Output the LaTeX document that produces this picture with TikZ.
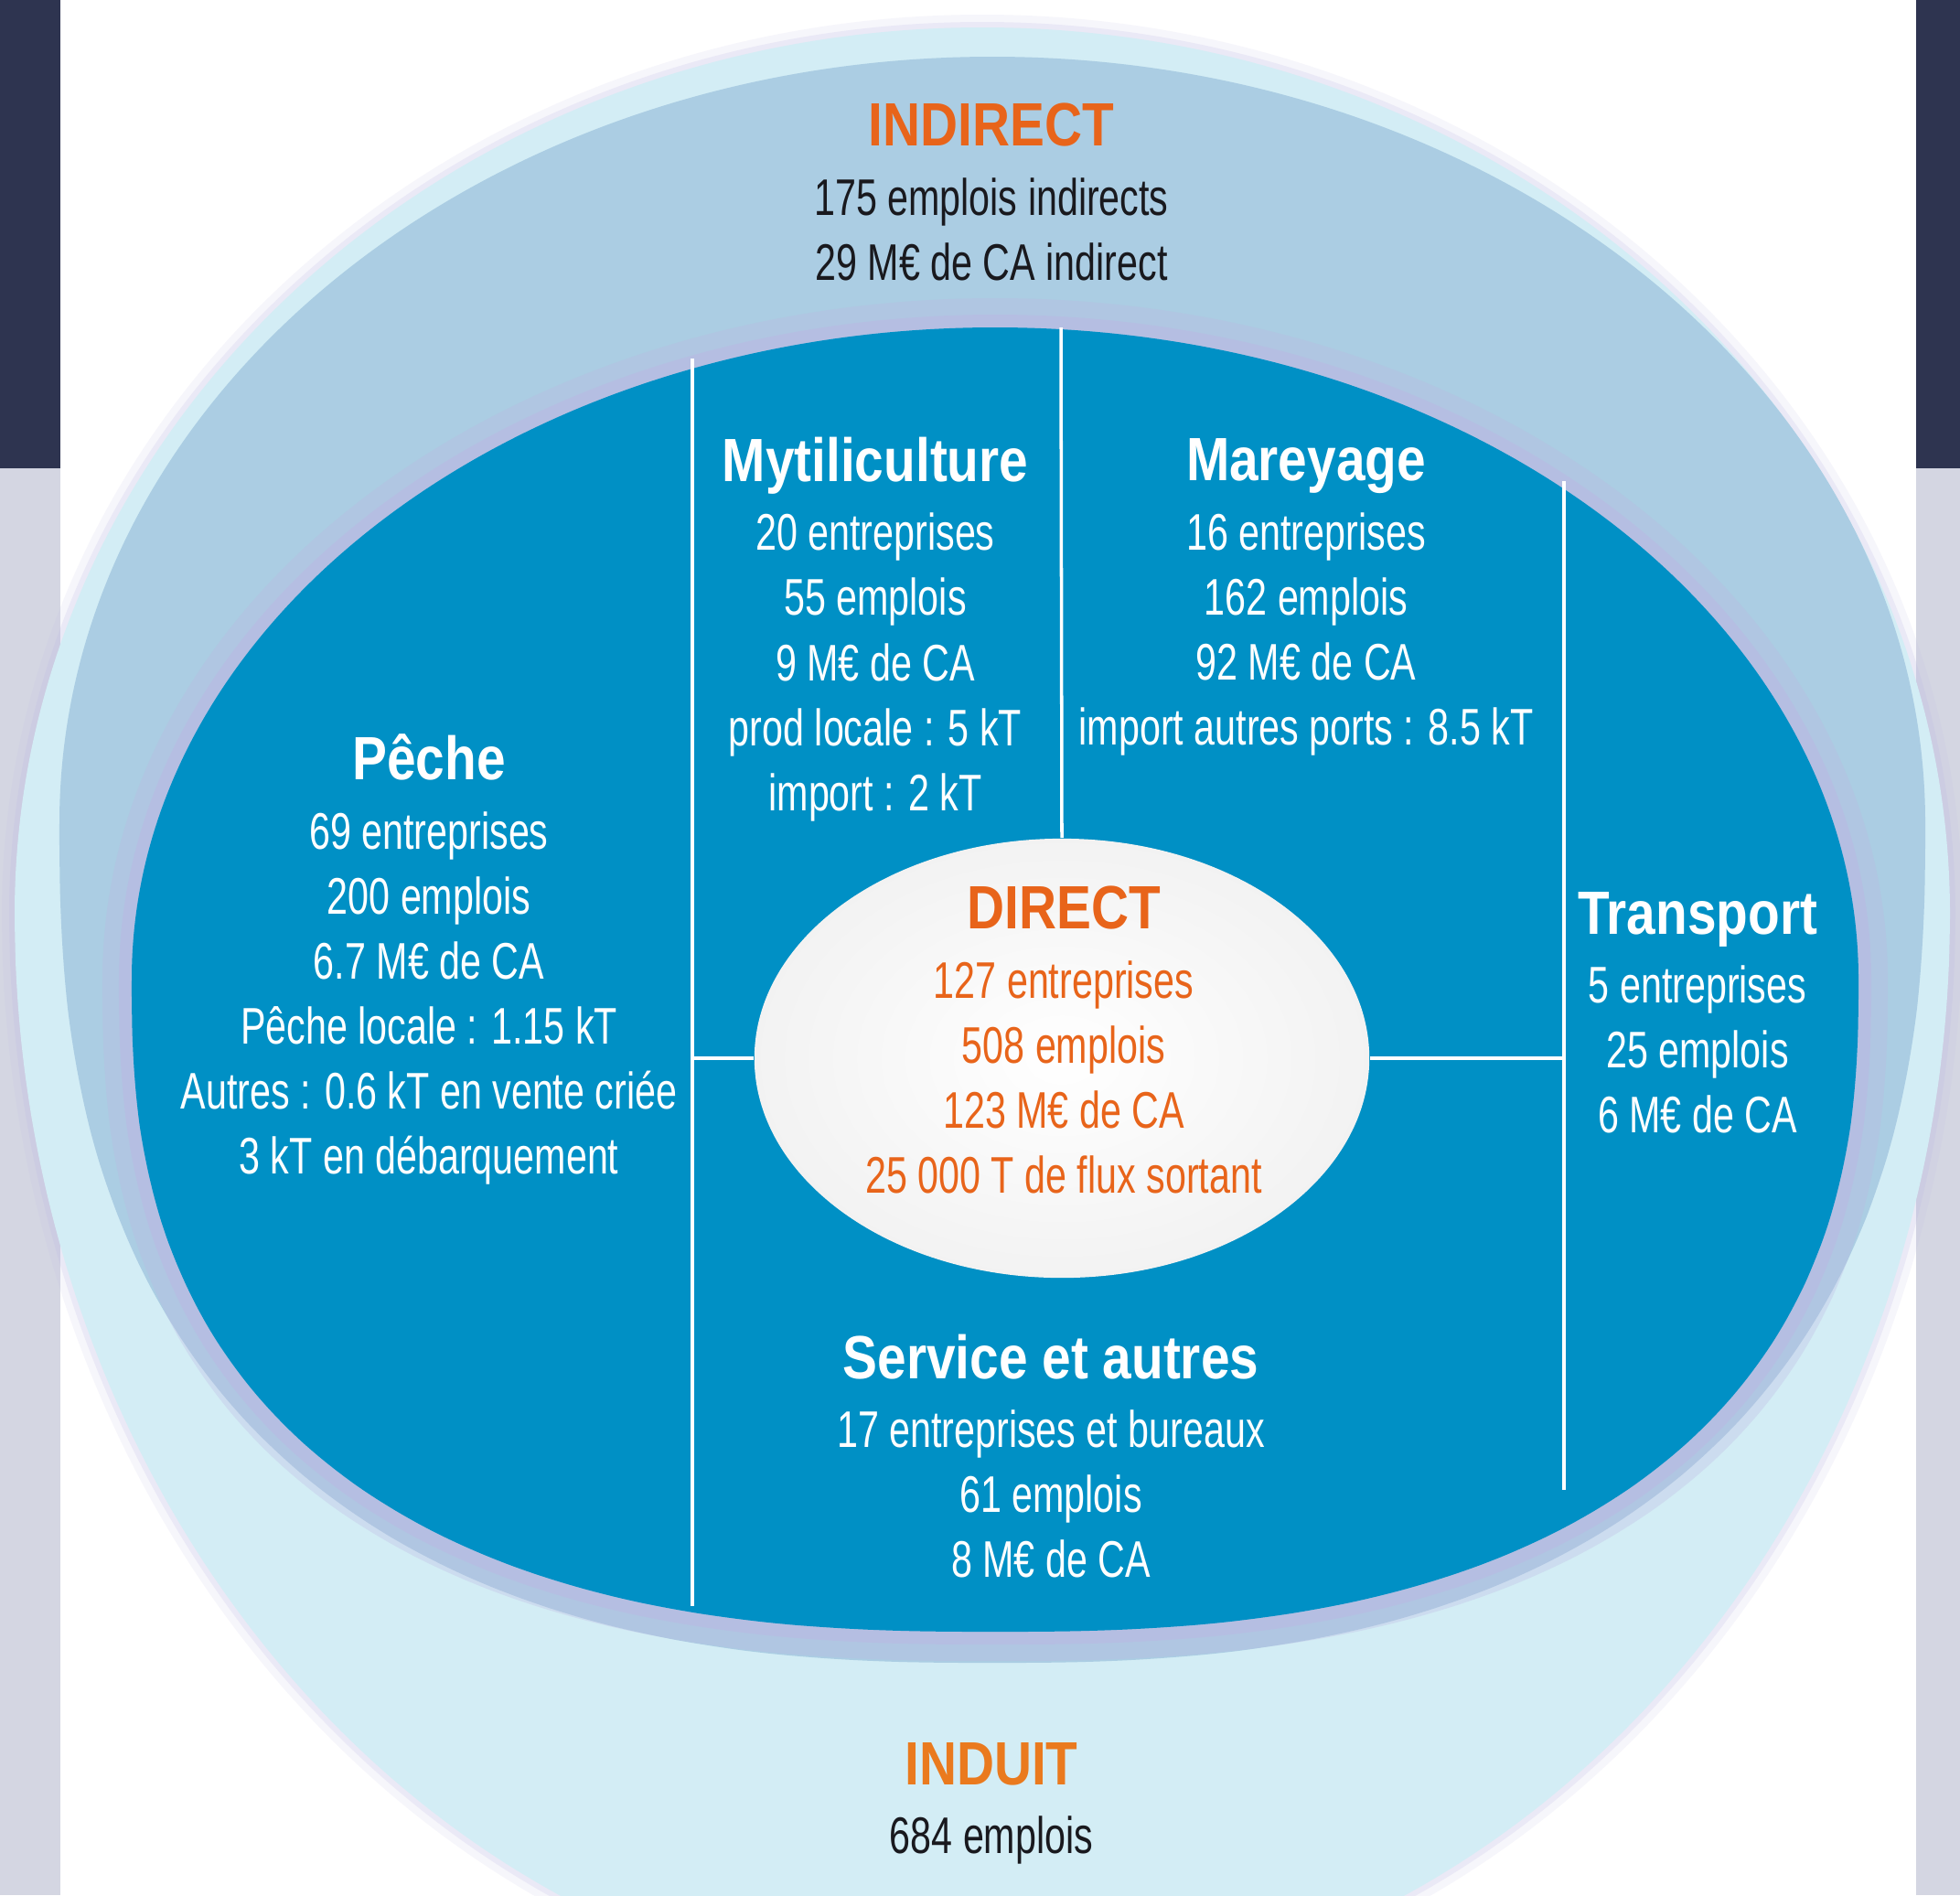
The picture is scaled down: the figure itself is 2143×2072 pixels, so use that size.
\documentclass[tikz,border=0pt]{standalone}
\usepackage{fontspec}
\setmainfont{Liberation Sans}
\newfontfamily\etroite[FakeStretch=0.733]{Liberation Sans}
\newfontfamily\etroitegras[FakeStretch=0.85]{Liberation Sans Bold}
\usetikzlibrary{shapes.geometric}
\definecolor{marine}{RGB}{46,52,80}
\definecolor{grisbord}{RGB}{212,214,226}
\definecolor{induit}{RGB}{211,237,245}
\definecolor{indirect}{RGB}{171,205,227}
\definecolor{direct}{RGB}{0,144,197}
\definecolor{orangetitre}{RGB}{232,100,26}
\definecolor{orangeinduit}{RGB}{234,122,30}
\definecolor{encre}{RGB}{25,25,30}
\definecolor{lavande}{RGB}{188,182,226}
\colorlet{ombre}{lavande}

\newcommand{\titre}[2][white]{{\color{#1}\etroitegras\fontsize{19}{20.2}\selectfont #2}\\[1.2pt]}

% forme ovale : moitie haute en ellipse, moitie basse plus ronde
% {cx}{cy}{rayon x}{rayon haut}{rayon bas}{exposant bas}
\tikzset{oeuf/.style n args={6}{insert path={
    (#1-#3,#2) arc[start angle=180, end angle=360, x radius=#3, y radius=#4]
    -- plot[domain=0.5:179.5, samples=90, smooth]
       ({#1+#3*(cos(\x)<0 ? -1 : 1)*abs(cos(\x))^#6}, {#2+#5*sin(\x)^#6}) -- cycle}}}

\begin{document}
\begin{tikzpicture}[x=0.01cm, y=-0.01cm,
    bloc/.style={align=center, inner sep=0pt, text=white, font=\etroite\fontsize{16}{20.2}\selectfont},
    separation/.style={white, line width=1pt}]

    \useasboundingbox (0,0) rectangle (2143,2072);
    \clip (0,0) rectangle (2143,2072);

    % fond et bandes laterales
    \fill[white] (0,0) rectangle (2143,2072);
    \fill[grisbord] (0,512) rectangle (66,2072);
    \fill[marine] (0,0) rectangle (66,512);
    \fill[grisbord] (2095,512) rectangle (2143,2072);
    \fill[marine] (2095,0) rectangle (2143,512);

    % anneaux
    \fill[ombre, opacity=0.12, oeuf={1074}{1000}{1072}{984}{1206}{1}];
    \fill[ombre, opacity=0.2, oeuf={1074}{1000}{1064}{976}{1198}{1}];
    \fill[induit, oeuf={1074}{1000}{1058}{970}{1192}{1}];
    \fill[indirect, oeuf={1085}{900}{1020}{838}{918}{0.8}];
    \fill[ombre, opacity=0.3, oeuf={1088}{1071}{976}{745}{745}{0.8}];
    \fill[ombre, opacity=0.45, oeuf={1088}{1071}{958}{727}{727}{0.8}];
    \fill[direct, oeuf={1088}{1071}{944}{713}{713}{0.8}];
    \node[ellipse, inner sep=0pt, minimum width=6.72cm, minimum height=4.8cm,
          inner color=white, outer color=gray!10, shading=radial] (noyau) at (1161,1157) {};

    % separations
    \coordinate (gHaut) at (757,392);
    \coordinate (gMil) at (757,1157);
    \coordinate (gBas) at (757,1756);
    \coordinate (cHaut) at (1160,358);
    \coordinate (dHaut) at (1710,526);
    \coordinate (dMil) at (1710,1157);
    \coordinate (dBas) at (1710,1629);
    \draw[separation] (gHaut) -- (gBas);
    \draw[separation] (cHaut) -- (noyau.north);
    \draw[separation] (dHaut) -- (dBas);
    \draw[separation] (gMil) -- (noyau.west);
    \draw[separation] (noyau.east) -- (dMil);

    % textes
    \node[bloc, text=encre] (indir) at (1084,210) {\titre[orangetitre]{INDIRECT}175 emplois indirects\\29 M€ de CA indirect};
    \node[bloc] (myti) at (957,688) {\titre{Mytiliculture}20 entreprises\\55 emplois\\9 M€ de CA\\prod locale : 5 kT\\import : 2 kT};
    \node[bloc] (marey) at (1428,653) {\titre{Mareyage}16 entreprises\\162 emplois\\92 M€ de CA\\import autres ports : 8.5 kT};
    \node[bloc] (peche) at (469,1049) {\titre{Pêche}69 entreprises\\200 emplois\\6.7 M€ de CA\\Pêche locale : 1.15 kT\\Autres : 0.6 kT en vente criée\\3 kT en débarquement};
    \node[bloc, text=orangetitre] (dir) at (1163,1137) {\titre[orangetitre]{DIRECT}127 entreprises\\508 emplois\\123 M€ de CA\\25 000 T de flux sortant};
    \node[bloc] (transp) at (1856,1107) {\titre{Transport}5 entreprises\\25 emplois\\6 M€ de CA};
    \node[bloc] (serv) at (1149,1592) {\titre{Service et autres}17 entreprises et bureaux\\61 emplois\\8 M€ de CA};
    \node[bloc, text=encre] (induit) at (1084,1972) {\titre[orangeinduit]{INDUIT}684 emplois};

\end{tikzpicture}
\end{document}
